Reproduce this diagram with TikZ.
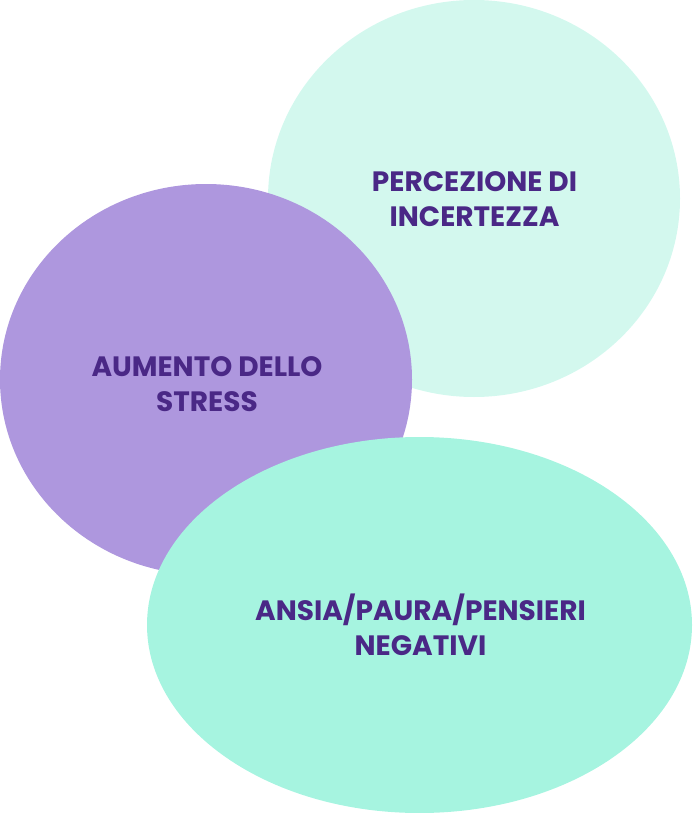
\documentclass[tikz,border=0pt]{standalone}
\usepackage{fontspec}
\setmainfont{Poppins}
\usepackage{tikz}

\definecolor{mintlight}{HTML}{D3F8EE}
\definecolor{lilac}{HTML}{AE97DE}
\definecolor{mint}{HTML}{A6F4E0}
\definecolor{plum}{HTML}{4A2886}

\tikzset{
  label text/.style={text=plum, font=\bfseries\fontsize{21}{26.5}\selectfont, align=center, inner sep=0.75pt}
}

\begin{document}
\begin{tikzpicture}[x=0.75pt,y=0.75pt,yscale=-1,xscale=1]
\useasboundingbox (0,0) rectangle (692,813);

%Shape: Circle [id:incertezza]
\fill[mintlight] (474,198.5) ellipse (206 and 198.5);
%Shape: Circle [id:stress]
\fill[lilac] (206,379.5) ellipse (206 and 195.5);
%Shape: Ellipse [id:ansia]
\fill[mint] (419.5,625) ellipse (272.5 and 188);

% Text Node
\node[label text] (incertezza) at (474.5,199) {PERCEZIONE DI\\INCERTEZZA};
% Text Node
\node[label text] (stress) at (207,384) {AUMENTO DELLO\\STRESS};
% Text Node
\node[label text] (ansia) at (420.5,625) {ANSIA/PAURA/PENSIERI\\NEGATIVI};

\end{tikzpicture}
\end{document}
